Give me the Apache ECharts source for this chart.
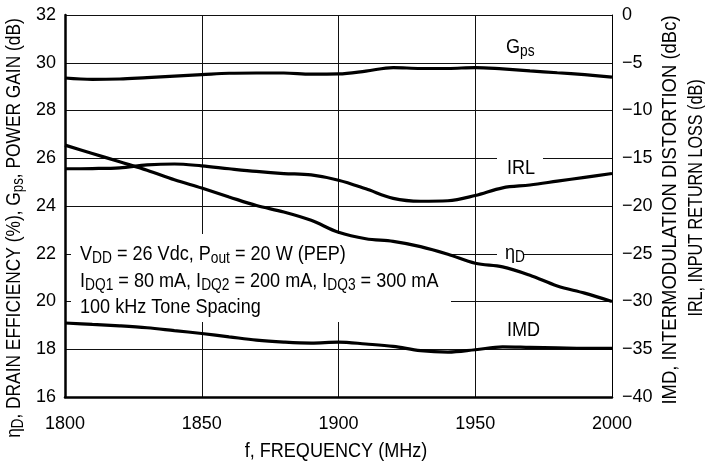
<!DOCTYPE html>
<html><head><meta charset="utf-8">
<script src="https://cdn.jsdelivr.net/npm/echarts@6/dist/echarts.min.js"></script>
<style>html,body{margin:0;padding:0;background:#fff}#c{width:705px;height:470px}</style>
</head><body><div id="c"></div>
<script>
const freq = [1800,1810,1820,1830,1840,1850,1860,1870,1880,1890,1900,1910,1920,1930,1940,1950,1960,1970,1980,1990,2000];
const gps  = [29.36,29.3,29.32,29.38,29.44,29.5,29.56,29.57,29.57,29.52,29.53,29.65,29.8,29.76,29.76,29.8,29.74,29.66,29.58,29.5,29.4];
const effD = [26.55,26.2,25.85,25.5,25.1,24.75,24.38,24.02,23.75,23.4,22.9,22.63,22.52,22.3,21.98,21.6,21.45,21.1,20.65,20.35,20.0];
const irl  = [-16.1,-16.08,-16.0,-15.7,-15.6,-15.8,-16.1,-16.38,-16.6,-16.75,-17.3,-18.2,-19.2,-19.5,-19.45,-18.9,-18.1,-17.8,-17.4,-17.0,-16.6];
const imd  = [-32.25,-32.4,-32.55,-32.75,-33.05,-33.35,-33.7,-34.05,-34.25,-34.35,-34.25,-34.45,-34.7,-35.15,-35.3,-35.05,-34.75,-34.8,-34.85,-34.9,-34.9];

const FONT = "'Liberation Sans',Arial,sans-serif";
const SX = 0.86;
const pair = arr => freq.map((f,i)=>[f,arr[i]]);
const lineS = (name, arr, yi) => ({
  name, type:'line', yAxisIndex: yi, data: pair(arr), smooth: 0.35, symbol:'none', z: 3,
  lineStyle:{color:'#000', width:3.2}
});
const rich = {
  t:{fontFamily:FONT, fontSize:21, color:'#000'},
  s:{fontFamily:FONT, fontSize:16, color:'#000', padding:[10,0,0,0]}
};
const T = (x, y, text, sx) => ({type:'text', z:5, x, y, scaleX:sx||SX,
  style:{text, rich, align:'left', verticalAlign:'middle'}});
const R = (x, y, text, sx) => ({type:'text', z:5, x, y, rotation:Math.PI/2, scaleX:sx||SX,
  style:{text, rich, align:'center', verticalAlign:'middle'}});

const chart = echarts.init(document.getElementById('c'), null, {renderer:'canvas'});
chart.setOption({
  animation:false,
  backgroundColor:'#fff',
  grid:{left:65, right:93, top:15, bottom:73, show:false},
  xAxis:{
    type:'value', min:1800, max:2000, interval:50,
    axisLine:{show:true, onZero:false, lineStyle:{color:'#000', width:2.5}},
    axisTick:{show:false},
    axisLabel:{fontFamily:FONT, fontSize:18, color:'#000', margin:18, formatter: v => String(v)},
    splitLine:{show:true, lineStyle:{color:'#111', width:1}}
  },
  yAxis:[{
    type:'value', min:16, max:32, interval:2,
    axisLine:{show:true, lineStyle:{color:'#000', width:2.5}},
    axisTick:{show:false},
    axisLabel:{fontFamily:FONT, fontSize:18, color:'#000', margin:9},
    splitLine:{show:true, lineStyle:{color:'#111', width:1}}
  },{
    type:'value', min:-40, max:0, interval:5, position:'right',
    axisLine:{show:true, lineStyle:{color:'#000', width:1}},
    axisTick:{show:false},
    axisLabel:{fontFamily:FONT, fontSize:18, color:'#000', margin:10,
      formatter: v => String(v).replace('-', '\u2212')},
    splitLine:{show:false}
  }],
  series:[
    lineS('Gps', gps, 0),
    lineS('ηD', effD, 0),
    lineS('IRL', irl, 1),
    lineS('IMD', imd, 1)
  ],
  graphic:[
    {type:'rect', z:1, shape:{x:71, y:234, width:380, height:88}, style:{fill:'#fff'}},
    T(80, 254, '{t|V}{s|DD}{t| = 26 Vdc, P}{s|out}{t| = 20 W (PEP)}'),
    T(80, 281, '{t|I}{s|DQ1}{t| = 80 mA, I}{s|DQ2}{t| = 200 mA, I}{s|DQ3}{t| = 300 mA}'),
    T(80, 307, '{t|100 kHz Tone Spacing}'),
    T(506, 47, '{t|G}{s|ps}'),
    {type:'rect', z:1, shape:{x:497, y:150, width:46, height:16}, style:{fill:'#fff'}},
    T(507, 168, '{t|IRL}'),
    {type:'rect', z:1, shape:{x:497, y:246, width:26, height:16}, style:{fill:'#fff'}},
    T(505, 253, '{t|η}{s|D}'),
    T(507, 330, '{t|IMD}'),
    R(14, 228, '{t|η}{s|D}{t|, DRAIN EFFICIENCY (%), G}{s|ps}{t|, POWER GAIN (dB)}', 0.826),
    R(670, 210, '{t|IMD, INTERMODULATION DISTORTION (dBc)}', 0.88),
    R(696, 198, '{t|IRL, INPUT RETURN LOSS (dB)}', 0.77),
    {type:'text', z:5, x:336, y:451, scaleX:SX, style:{text:'{t|f, FREQUENCY (MHz)}', rich, align:'center', verticalAlign:'middle'}}
  ]
});
</script></body></html>
